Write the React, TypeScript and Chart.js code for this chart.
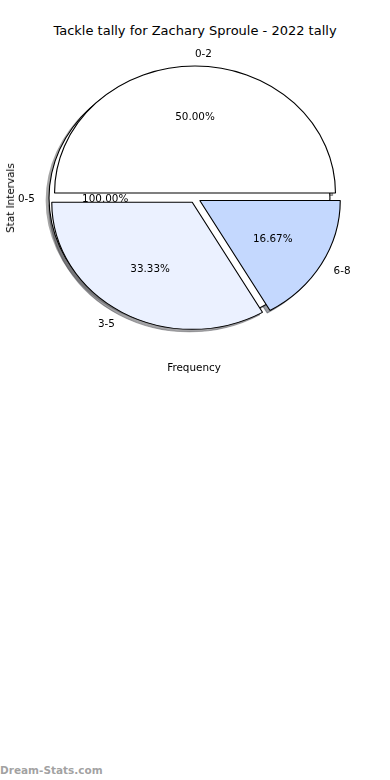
import React, { useEffect, useRef } from 'react';
import { Chart, ArcElement, registerables } from 'chart.js';

Chart.register(...registerables);

// ---- text ----
const TITLE = 'Tackle tally for Zachary Sproule - 2022 tally';
const X_LABEL = 'Frequency';
const Y_LABEL = 'Stat Intervals';
const WATERMARK = 'Dream-Stats.com';

// ---- data (matplotlib order: counter-clockwise from 3 o'clock) ----
const backCategories = ['0-5'];
const backValues = [1];
const backColors = ['#ffffff'];

const sliceCategories = ['0-2', '3-5', '6-8'];
const sliceValues = [3, 2, 1];
const sliceColors = ['#ffffff', '#ebf1ff', '#c4d8fe'];

// ---- geometry / style ----
const CANVAS_W = 390;
const CANVAS_H = 396;
const RADIUS = 127;
const X_STRETCH = 1.106;
const EXPLODE = 5;
const SHADOW_SHIFT: [number, number] = [-2.8, 2.5];
const LABEL_DIST = 1.1;
const PCT_DIST = 0.6;
const FONT = '"DejaVu Sans", Verdana, sans-serif';
const LABEL_PX = 10.4;
const TEXT_DY = 0.9;

function shadowOf(hex: string) {
  const n = parseInt(hex.slice(1), 16);
  const r = Math.round(((n >> 16) & 255) * 0.3);
  const g = Math.round(((n >> 8) & 255) * 0.3);
  const b = Math.round((n & 255) * 0.3);
  return `rgba(${r},${g},${b},0.5)`;
}

type PieCfg = {
  labels: string[];
  values: number[];
  colors: string[];
  borderColor: string | string[];
  borderWidth: number;
  radius: number;
  shift?: [number, number];
  extraPlugins?: any[];
};

function makePie(canvas: HTMLCanvasElement, cfg: PieCfg) {
  const shift = cfg.shift || [0, 0];
  const geometry = {
    id: 'pieGeometry',
    beforeDatasetsDraw(chart: any) {
      const meta = chart.getDatasetMeta(0);
      const ctx = chart.ctx;
      meta.data.forEach((el: any) => {
        if (!el.__exploded) {
          el.__exploded = true;
          el.draw = function (c: CanvasRenderingContext2D, area: any) {
            const h = (this.startAngle + this.endAngle) / 2;
            c.save();
            c.translate(Math.cos(h) * EXPLODE, Math.sin(h) * EXPLODE);
            ArcElement.prototype.draw.call(this, c, area);
            c.restore();
          };
        }
      });
      const first = meta.data[0];
      const cx = first ? first.x : chart.width / 2;
      const cy = first ? first.y : chart.height / 2;
      ctx.save();
      ctx.translate(shift[0], shift[1]);
      ctx.translate(cx, cy);
      ctx.scale(X_STRETCH, 1);
      ctx.translate(-cx, -cy);
    },
    afterDatasetsDraw(chart: any) {
      chart.ctx.restore();
    },
  };
  const rev = <T,>(a: T[]) => [...a].reverse();
  return new Chart(canvas, {
    type: 'pie',
    data: {
      labels: rev(cfg.labels),
      datasets: [
        {
          data: rev(cfg.values),
          backgroundColor: rev(cfg.colors),
          borderColor: Array.isArray(cfg.borderColor) ? rev(cfg.borderColor) : cfg.borderColor,
          borderWidth: cfg.borderWidth,
          offset: 0,
          hoverOffset: 0,
          spacing: 0,
        } as any,
      ],
    },
    options: {
      responsive: false,
      maintainAspectRatio: false,
      animation: false,
      events: [],
      devicePixelRatio: 1,
      rotation: 90,
      radius: cfg.radius,
      layout: { padding: 0 },
      plugins: {
        legend: { display: false },
        tooltip: { enabled: false },
        title: { display: false },
      },
    } as any,
    plugins: [geometry, ...(cfg.extraPlugins || [])],
  });
}

function drawPieLabels(ctx: CanvasRenderingContext2D, src: any) {
  const meta = src.getDatasetMeta(0);
  const values: number[] = src.data.datasets[0].data;
  const labels: string[] = src.data.labels;
  const total = values.reduce((a, b) => a + b, 0);
  ctx.save();
  ctx.fillStyle = '#000';
  ctx.font = `${LABEL_PX}px ${FONT}`;
  ctx.textBaseline = 'middle';
  meta.data.forEach((el: any, i: number) => {
    const h = (el.startAngle + el.endAngle) / 2;
    const cos = Math.cos(h);
    const sin = Math.sin(h);
    const ex = el.x + X_STRETCH * EXPLODE * cos;
    const ey = el.y + EXPLODE * sin;
    const lx = ex + X_STRETCH * RADIUS * LABEL_DIST * cos;
    const ly = ey + RADIUS * LABEL_DIST * sin;
    ctx.textAlign = cos > -1e-9 ? 'left' : 'right';
    ctx.fillText(labels[i], lx, ly + TEXT_DY);
    const px = ex + X_STRETCH * RADIUS * PCT_DIST * cos;
    const py = ey + RADIUS * PCT_DIST * sin;
    ctx.textAlign = 'center';
    ctx.fillText(((values[i] / total) * 100).toFixed(2) + '%', px, py + TEXT_DY);
  });
  ctx.restore();
}

export default function App() {
  const c1 = useRef<HTMLCanvasElement>(null);
  const c2 = useRef<HTMLCanvasElement>(null);
  const c3 = useRef<HTMLCanvasElement>(null);
  const c4 = useRef<HTMLCanvasElement>(null);
  const c5 = useRef<HTMLCanvasElement>(null);

  useEffect(() => {
    const charts: Chart[] = [];
    // shadows (all beneath every wedge)
    charts.push(
      makePie(c1.current!, {
        labels: backCategories,
        values: backValues,
        colors: backColors.map(shadowOf),
        borderColor: 'rgba(0,0,0,0)',
        borderWidth: 0,
        radius: RADIUS + 0.5,
        shift: SHADOW_SHIFT,
      })
    );
    charts.push(
      makePie(c2.current!, {
        labels: sliceCategories,
        values: sliceValues,
        colors: sliceColors.map(shadowOf),
        borderColor: sliceColors.map(shadowOf),
        borderWidth: 1,
        radius: RADIUS,
        shift: SHADOW_SHIFT,
      })
    );
    // full back wedge: black edge disk + face disk
    charts.push(
      makePie(c3.current!, {
        labels: backCategories,
        values: backValues,
        colors: ['#000000'],
        borderColor: 'rgba(0,0,0,0)',
        borderWidth: 0,
        radius: RADIUS + 0.5,
      })
    );
    const back = makePie(c4.current!, {
      labels: backCategories,
      values: backValues,
      colors: backColors,
      borderColor: 'rgba(0,0,0,0)',
      borderWidth: 0,
      radius: RADIUS - 0.5,
    });
    charts.push(back);
    // exploded slices + all text labels on top
    const labelPlugin = {
      id: 'pieLabels',
      afterDraw(chart: any) {
        drawPieLabels(chart.ctx, back);
        drawPieLabels(chart.ctx, chart);
      },
    };
    charts.push(
      makePie(c5.current!, {
        labels: sliceCategories,
        values: sliceValues,
        colors: sliceColors,
        borderColor: '#000000',
        borderWidth: 1,
        radius: RADIUS,
        extraPlugins: [labelPlugin],
      })
    );
    return () => charts.forEach((c) => c.destroy());
  }, []);

  const canvasStyle: React.CSSProperties = {
    position: 'absolute',
    left: 0,
    top: 0,
    width: CANVAS_W,
    height: CANVAS_H,
  };

  return (
    <div
      style={{
        position: 'fixed',
        left: 0,
        top: 0,
        width: 390,
        height: 780,
        background: '#ffffff',
        overflow: 'hidden',
        fontFamily: FONT,
        color: '#000',
      }}
    >
      <div
        style={{
          position: 'absolute',
          left: 0,
          top: 22.5,
          width: 390,
          textAlign: 'center',
          fontSize: 13,
          lineHeight: '16px',
          whiteSpace: 'nowrap',
        }}
      >
        {TITLE}
      </div>
      <canvas ref={c1} width={CANVAS_W} height={CANVAS_H} style={canvasStyle} />
      <canvas ref={c2} width={CANVAS_W} height={CANVAS_H} style={canvasStyle} />
      <canvas ref={c3} width={CANVAS_W} height={CANVAS_H} style={canvasStyle} />
      <canvas ref={c4} width={CANVAS_W} height={CANVAS_H} style={canvasStyle} />
      <canvas ref={c5} width={CANVAS_W} height={CANVAS_H} style={canvasStyle} />
      <div
        style={{
          position: 'absolute',
          left: 10,
          top: 198,
          fontSize: LABEL_PX,
          lineHeight: '14px',
          whiteSpace: 'nowrap',
          transform: 'translate(-50%, -50%) rotate(-90deg)',
        }}
      >
        {Y_LABEL}
      </div>
      <div
        style={{
          position: 'absolute',
          left: 0,
          top: 360,
          width: 390,
          textAlign: 'center',
          fontSize: LABEL_PX,
          lineHeight: '14px',
          whiteSpace: 'nowrap',
        }}
      >
        <span style={{ position: 'relative', left: -1 }}>{X_LABEL}</span>
      </div>
      <div
        style={{
          position: 'absolute',
          left: 0,
          top: 763,
          fontSize: 10.5,
          lineHeight: '14px',
          fontWeight: 'bold',
          color: 'rgba(120,120,120,0.7)',
          whiteSpace: 'nowrap',
        }}
      >
        {WATERMARK}
      </div>
    </div>
  );
}
